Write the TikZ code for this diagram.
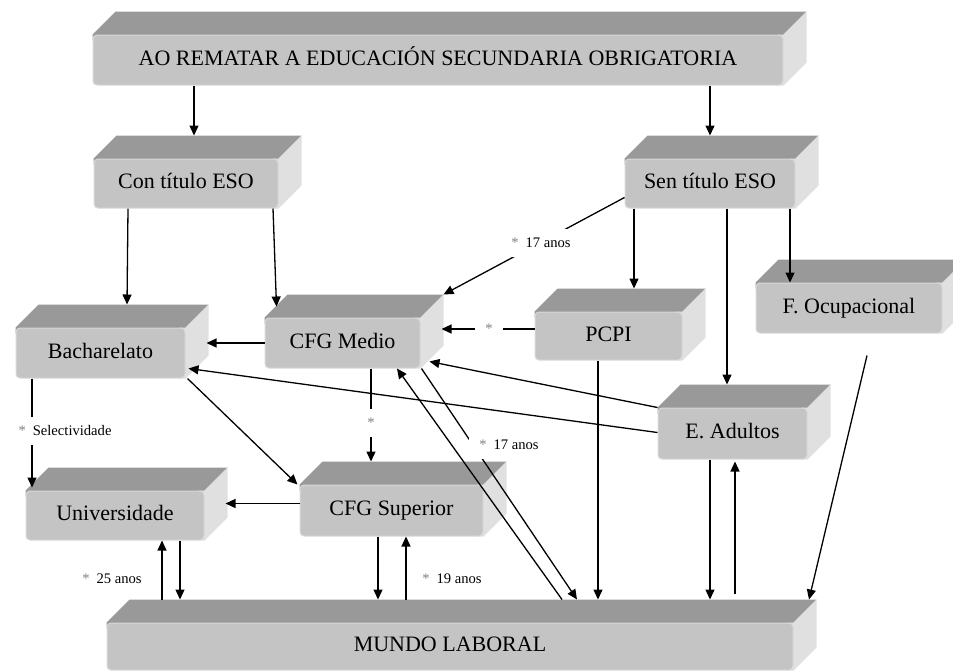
\documentclass[tikz,border=0pt]{standalone}
\usepackage{fontspec}
\setmainfont{Liberation Serif}
\usetikzlibrary{arrows.meta,calc,backgrounds}

\newcommand{\bloque}[5]{%
	\node[caixa, minimum width=#3*0.5pt, minimum height=#4*0.5pt] (#1) at #2 {#5};
	\begin{scope}[on background layer]
		\fill[caraSup] ([yshift=-3pt]#1.north west) -- (#1.north west) -- ([shift={(23,-23)}]#1.north west) -- ([shift={(23,-23)}]#1.north east) -- (#1.north east) -- ([yshift=-3pt]#1.north east) -- cycle;
		\fill[caraLat] ([xshift=-3pt]#1.north east) -- (#1.north east) -- ([shift={(23,-23)}]#1.north east) -- ([shift={(23,-23)}]#1.south east) -- (#1.south east) -- ([xshift=-3pt]#1.south east) -- cycle;
	\end{scope}
	\coordinate (#1-t) at ([shift={(0,-23)}]#1.north);
	\coordinate (#1-e) at ([shift={(21,0)}]#1.east);
}
\newcommand{\asterisco}{\textcolor{black!50}{*}\hspace{3.5pt}}

\begin{document}
\begin{tikzpicture}[x=0.5pt, y=-0.5pt, line width=0.65pt, >={Triangle[length=5pt,width=4.5pt]},
	caixa/.style={fill=black!23, draw=black!15, line width=0.5pt, rounded corners=2pt, inner sep=0pt, text height=7.6pt, text depth=2.2pt, font=\fontsize{11}{13}\selectfont},
	caraSup/.style={fill=black!40},
	caraLat/.style={fill=black!12},
	etiq/.style={fill=white, inner xsep=5pt, inner ysep=3.5pt, text height=5.5pt, text depth=1.5pt, font=\fontsize{7.3}{8}\selectfont}]
		\useasboundingbox (0,0) rectangle (953,671);
		\bloque{topo}{(438,60)}{690}{50}{AO REMATAR A EDUCACIÓN SECUNDARIA OBRIGATORIA}
		\bloque{con}{(186,183.5)}{184}{49}{Con título ESO}
		\bloque{sen}{(710,183.5)}{170}{49}{Sen título ESO}
		\bloque{bach}{(100.5,353)}{169}{50}{Bacharelato}
		\bloque{medio}{(342.5,343)}{155}{50}{CFG Medio}
		\bloque{pcpi}{(608.5,336)}{147}{48}{PCPI}
		\bloque{focup}{(849,308)}{186}{50}{F. Ocupacional}
		\bloque{adult}{(732.5,433.5)}{149}{51}{E. Adultos}
		\bloque{super}{(391.5,510.5)}{183}{51}{CFG Superior}
		\bloque{univ}{(115,515.5)}{178}{49}{Universidade}
		\bloque{mundo}{(450,646.5)}{686}{47}{MUNDO LABORAL}
		\draw[->] (topo.south -| 194,0) -- (con-t -| 194,0);
		\draw[->] (topo.south -| 710,0) -- (sen-t -| 710,0);
		\draw[->] (con.south -| 128,0) -- (bach-t -| 127,0);
		\draw[->] (con.south -| 273,0) -- ($(medio.north west)+(12,-11)$);
		\draw[->] ($(sen.south west)+(0,-11)$) -- ([shift={(23,-23)}]medio.north east);
		\draw[->] (sen.south -| 634,0) -- (pcpi-t -| 634,0);
		\draw[->] (sen.south -| 727,0) -- (adult-t -| 727,0);
		\draw[->] (sen.south -| 790,0) -- (focup.north -| 790,0);
		\draw[->] ($(pcpi.west)+(0,-7)$) -- ($(medio-e |- pcpi.west)+(0,-7)$);
		\draw[->] (medio.west) -- (medio.west -| bach-e);
		\draw[->] (adult.north west) -- ($(medio.south east)+(9,-7)$);
		\draw[->] ($(adult.west)+(0,-1)$) -- ($(bach.south east)+(3,-10)$);
		\draw[->] ($(bach.south east)+(2,0)$) -- ($(super.north west)+(-2,0)$);
		\draw[->] (medio.south -| 371,0) -- (super-t -| 371,0);
		\draw[->] (bach.south -| 32,0) -- ($(univ.north -| 32,0)+(0,-3)$);
		\draw[->] ($(super.west)+(0,-7)$) -- ($(univ-e |- super.west)+(0,-7)$);
		\draw[->] ($(medio.south east)+(1,0)$) -- (mundo-t -| 577,0);
		\draw[->] (mundo-t -| 562,0) -- (medio.south -| 397,0);
		\draw[->] (pcpi.south -| 598,0) -- (mundo-t -| 598,0);
		\draw[->] (adult.south -| 710,0) -- (mundo-t -| 710,0);
		\draw[->] ($(mundo-t -| 735,0)+(0,-6)$) -- ($(adult.south -| 735,0)+(0,2)$);
		\draw[->] ($(focup.south -| 867,0)+(0,22)$) -- (mundo-t -| 809,0);
		\draw[->] (univ.south -| 180,0) -- (mundo-t -| 180,0);
		\draw[->] (mundo-t -| 162,0) -- (univ.south -| 162,0);
		\draw[->] (super.south -| 378,0) -- (mundo-t -| 378,0);
		\draw[->] (mundo-t -| 406,0) -- (super.south -| 406,0);
		\node[etiq] (l17a) at (541,243) {\asterisco 17 anos};
		\node[etiq] (lpcpi) at (489,329) {\textcolor{black!50}{*}};
		\node[etiq] (lsup) at (371,423) {\textcolor{black!50}{*}};
		\node[etiq] (lsel) at (65,431) {\asterisco Selectividade};
		\node[etiq] (l17b) at (509,445) {\asterisco 17 anos};
		\node[etiq] (l25) at (112,579) {\asterisco 25 anos};
		\node[etiq] (l19) at (452,579) {\asterisco 19 anos};
\end{tikzpicture}
\end{document}
